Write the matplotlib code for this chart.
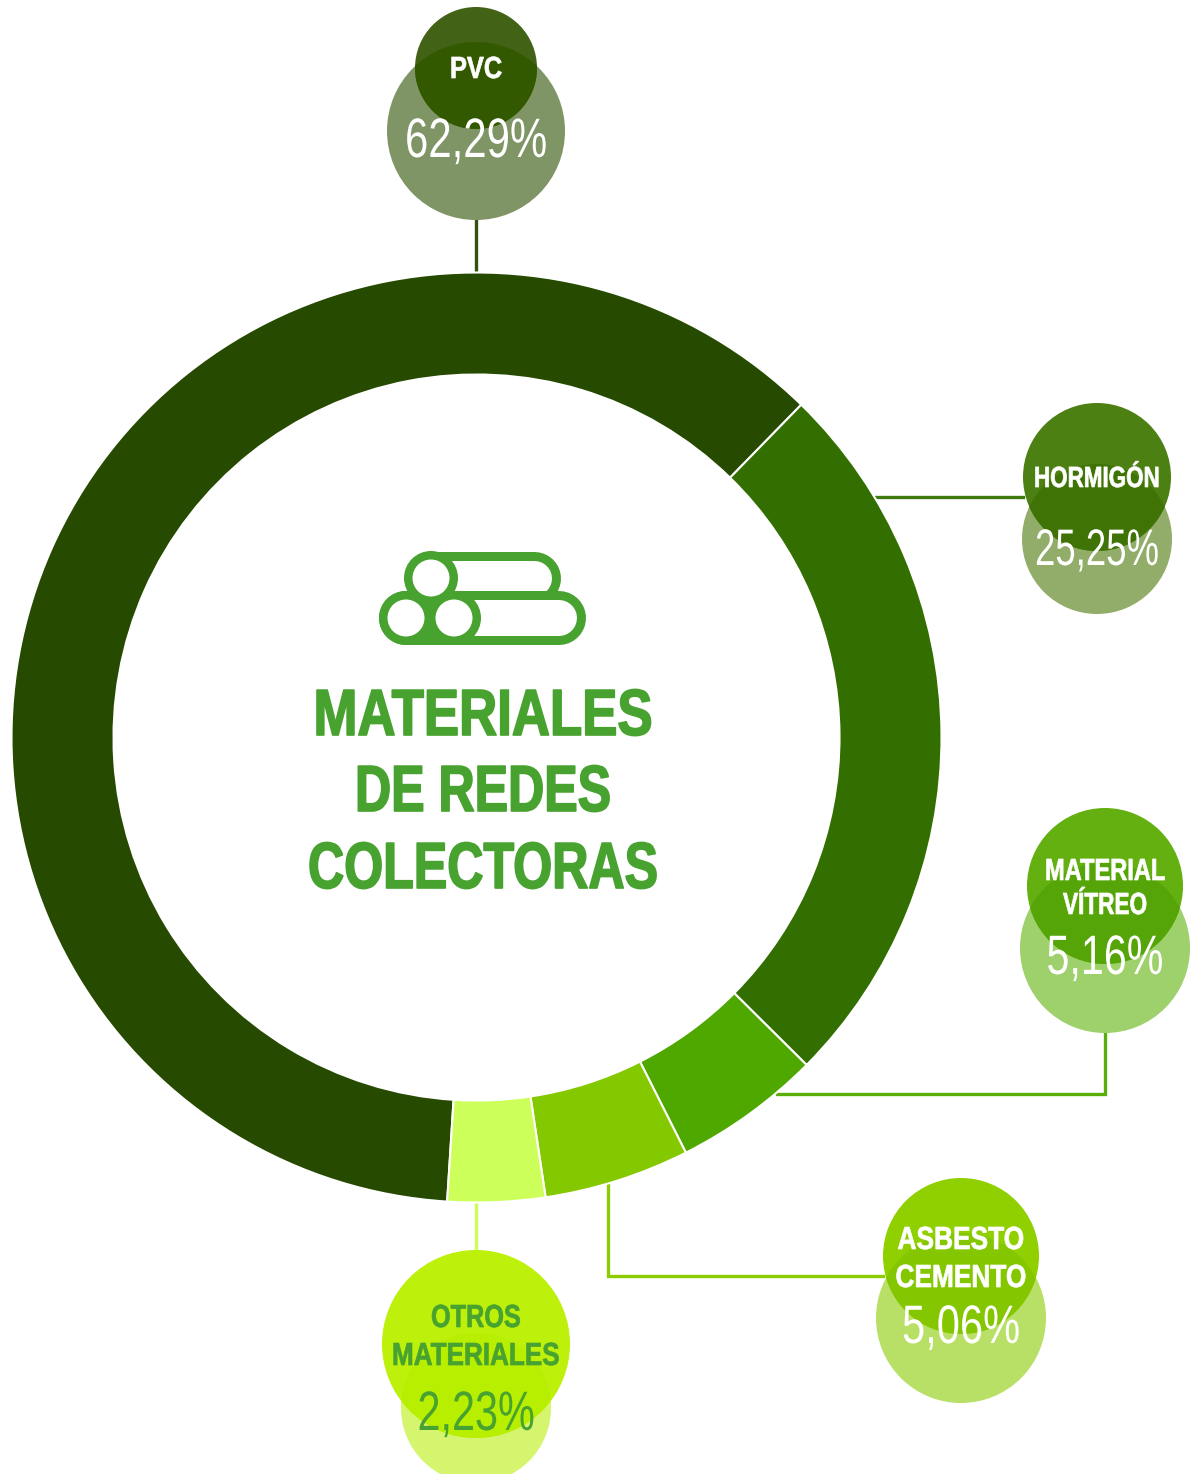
import matplotlib
matplotlib.use('Agg')
import matplotlib.pyplot as plt
from matplotlib.patches import Wedge, Circle, Rectangle
from matplotlib.patheffects import AbstractPathEffect
from matplotlib.transforms import Affine2D

plt.rcParams['font.family'] = ['Liberation Sans', 'DejaVu Sans']

# data, as printed and as drawn (the ring is not quite to scale in the original)
CATEGORIES = ['PVC', 'HORMIGÓN', 'MATERIAL\nVÍTREO', 'ASBESTO\nCEMENTO', 'OTROS\nMATERIALES']
PRINTED = ['62,29%', '25,25%', '5,16%', '5,06%', '2,23%']
RING_SHARES = [61.3, 25.13, 5.13, 5.06, 3.38]
RING_START = 44.3 - 61.3 * 3.6   # degrees clockwise from 12 o'clock

RING_COLORS = ['#254a00', '#336e00', '#4fa800', '#84c800', '#ccff5a']
DARK_COLORS = ['#426316', '#4c8012', '#63b010', '#90d000', '#bdf00a']
OVERLAP_COLORS = ['#335900', '#3f7305', '#55a508', '#84c700', '#b8ee00']
LIGHT_COLORS = ['#7f9565', '#92ad6a', '#9ed06c', '#b9e066', '#d5f56f']
LINE_COLORS = ['#2f5508', '#3f7a10', '#5aae0c', '#8ccc00', '#ccff5a']
TEXT_COLORS = ['white', 'white', 'white', 'white', '#47a22f']
GREEN = '#47a22f'

# layout, in image pixels
CX, CY, R_OUT, R_IN = 476.5, 737.5, 465, 363
DARK_XYR = [(476, 68, 61), (1097, 477, 74), (1105, 886, 78), (961, 1256, 78), (476, 1344, 94)]
LIGHT_XYR = [(476, 131, 89), (1097, 539, 75), (1105, 948, 85), (961, 1318, 85), (476, 1408, 75)]
LINES = [
    [(476, 219), (476, 271)],
    [(876, 497), (1023, 497)],
    [(1105, 1033), (1105, 1094), (777, 1094)],
    [(608, 1185), (608, 1276), (883, 1276)],
    [(476, 1204), (476, 1250)],
]
LABEL_BASE = [[78], [487], [880, 914], [1249, 1287], [1327, 1365]]
LABEL_WIDTH = [[52], [126], [120, 84], [127, 131], [90, 168]]
LABEL_SIZE = [22, 21, 22, 23, 23]
VALUE_BASE = [157, 565, 974, 1343, 1430]
VALUE_WIDTH = [142, 124, 117, 118, 117]
VALUE_SIZE = [40, 37, 40, 39, 40]
TITLE_LINES = ['MATERIALES', 'DE REDES', 'COLECTORAS']
TITLE_BASE = [735, 811, 888]
TITLE_WIDTH = [339, 256, 350]


class Condense(AbstractPathEffect):
    """Squeeze a text sideways about x0 (no condensed face is installed)."""

    def __init__(self, x0, sx, stroke=0):
        super().__init__()
        self.squeeze = Affine2D().translate(-x0, 0).scale(sx, 1).translate(x0, 0)
        self.stroke = stroke

    def draw_path(self, renderer, gc, tpath, affine, rgbFace=None):
        gc0 = renderer.new_gc()
        gc0.copy_properties(gc)
        if self.stroke:
            gc0.set_linewidth(self.stroke)
            gc0.set_foreground(rgbFace)
        renderer.draw_path(gc0, tpath, affine + self.squeeze, rgbFace)
        gc0.restore()


fig = plt.figure(figsize=(12, 14.74), dpi=100)
ax = fig.add_axes([0, 0, 1, 1])
ax.set_xlim(0, 1200)
ax.set_ylim(1474, 0)
ax.axis('off')


def fit_text(x, base, s, width, stroke=0, **kw):
    t = ax.text(x, base, s, ha='center', va='baseline', zorder=6, **kw)
    w = t.get_window_extent(fig.canvas.get_renderer()).width
    t.set_path_effects([Condense(x, width / w, stroke)])
    return t


# ring
a = RING_START
for share, col in zip(RING_SHARES, RING_COLORS):
    b = a + share * 3.6
    ax.add_patch(Wedge((CX, CY), R_OUT, a - 90, b - 90, width=R_OUT - R_IN,
                       facecolor=col, edgecolor='white', lw=1.5, zorder=2))
    a = b

# connectors and bubbles
for i in range(len(CATEGORIES)):
    xs, ys = zip(*LINES[i])
    ax.plot(xs, ys, color=LINE_COLORS[i], lw=2.4, solid_joinstyle='miter', zorder=1)
    lx, ly, lr = LIGHT_XYR[i]
    ax.add_patch(Circle((lx, ly), lr, facecolor=LIGHT_COLORS[i], lw=0, zorder=3))
    x, y, r = DARK_XYR[i]
    top = Circle((x, y), r, facecolor=DARK_COLORS[i], lw=0, zorder=4)
    ax.add_patch(top)
    lens = Circle((lx, ly), lr, facecolor=OVERLAP_COLORS[i], lw=0, zorder=5)
    ax.add_patch(lens)
    lens.set_clip_path(top)

    for line, base, w in zip(CATEGORIES[i].split('\n'), LABEL_BASE[i], LABEL_WIDTH[i]):
        fit_text(x, base, line, w, stroke=0.5, color=TEXT_COLORS[i],
                 fontsize=LABEL_SIZE[i], fontweight='bold')
    fit_text(x, VALUE_BASE[i], PRINTED[i], VALUE_WIDTH[i], color=TEXT_COLORS[i], fontsize=VALUE_SIZE[i])

# pipes icon, px -> pt is 0.72
for x0, x1, y, h in [(431, 534, 577.5, 53), (406, 559, 618, 54)]:
    ax.plot([x0, x1], [y, y], color=GREEN, lw=h * 0.72, solid_capstyle='round', zorder=2)
    ax.plot([x0, x1], [y, y], color='white', lw=(h - 18) * 0.72, solid_capstyle='round', zorder=2)
ax.add_patch(Rectangle((418, 598), 24, 44, facecolor=GREEN, lw=0, zorder=3))
for x, y in [(431, 578), (406, 618), (454, 618)]:
    ax.add_patch(Circle((x, y), 27, facecolor=GREEN, lw=0, zorder=3))
for x, y in [(431, 578), (406, 618), (454, 618)]:
    ax.add_patch(Circle((x, y), 18.5, facecolor='white', lw=0, zorder=4))

# title
for line, base, w in zip(TITLE_LINES, TITLE_BASE, TITLE_WIDTH):
    fit_text(483, base, line, w, stroke=1.2, color=GREEN, fontsize=47, fontweight='bold')

fig.savefig('out.png', dpi=100)
